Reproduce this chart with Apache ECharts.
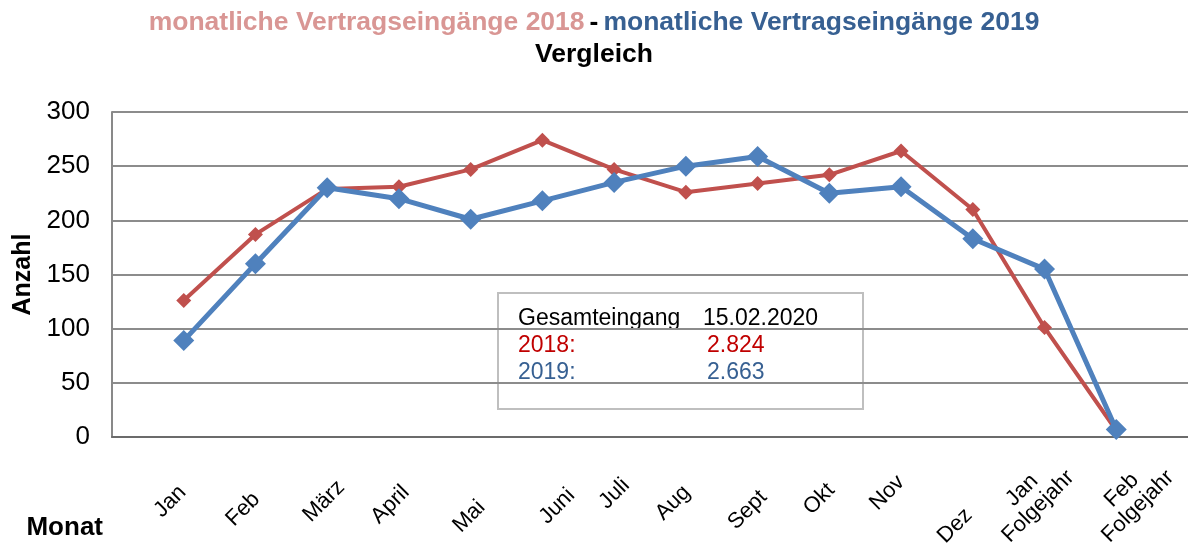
<!DOCTYPE html>
<html>
<head>
<meta charset="utf-8">
<script src="https://cdn.jsdelivr.net/npm/echarts@6/dist/echarts.min.js"></script>
<style>
	html, body { margin: 0; padding: 0; background: #fff; }
	#chart { width: 1188px; height: 546px; }
</style>
</head>
<body>
<div id="chart"></div>
<script>
'use strict';
(function(){
	// Monate (Kategorien)
	var months = ['Jan', 'Feb', 'März', 'April', 'Mai', 'Juni', 'Juli', 'Aug', 'Sept', 'Okt', 'Nov', 'Dez', 'Jan\nFolgejahr', 'Feb\nFolgejahr'];
	// Vertragseingänge je Monat
	var values2018 = [126, 187, 229, 231, 247, 274, 247, 226, 234, 242, 264, 210, 101, 6];
	var values2019 = [89, 160, 230, 220, 201, 218, 235, 250, 259, 225, 231, 183, 155, 7];
	var yTicks = [0, 50, 100, 150, 200, 250, 300];
	var stichtag = '15.02.2020';

	// Verschiebung der schraegen Monatsbeschriftungen (x, y in px) wie im Original
	var labelShift = [[-1,52],[1,59],[14,47],[7,52],[11,67],[29,55],[12,45],[1,52],[6,57],[2,50],[0,42],[-4,75],[18,29],[46,29]];

	var FONT = '"Liberation Sans", Arial, sans-serif';
	var RED = '#C0504D', BLUE = '#4F81BD';

	function sum(arr){ return arr.reduce(function(a, b){ return a + b; }, 0); }
	function de(n){ return String(n).replace(/\B(?=(\d{3})+(?!\d))/g, '.'); }

	// leere Kategorie vorne und hinten, damit die Punkte wie im Original eingerueckt sind
	var cats = [{ value: '' }].concat(months.map(function(m, i){
		var s = labelShift[i];
		var r = (s[1] - s[0]) * Math.SQRT1_2;
		var t = (s[0] + s[1]) * Math.SQRT2;
		return { value: m, textStyle: { padding: [t, r, 0, 0] } };
	}), [{ value: '' }]);
	function pad(arr){ return [null].concat(arr, [null]); }

	var myChart = echarts.init(document.getElementById('chart'));
	myChart.setOption({
		animation: false,
		textStyle: { fontFamily: FONT },
		title: {
			left: 'center',
			top: 2,
			text: '{a|monatliche Vertragseingänge 2018} {d|-} {b|monatliche Vertragseingänge 2019}\n{c|Vergleich}',
			textStyle: {
				fontFamily: FONT,
				rich: {
					a: { color: '#D99694', fontSize: 26.5, fontWeight: 'bold', fontFamily: FONT, lineHeight: 32 },
					d: { color: '#000', fontSize: 26.5, fontWeight: 'bold', fontFamily: FONT, lineHeight: 32 },
					b: { color: '#376092', fontSize: 26.5, fontWeight: 'bold', fontFamily: FONT, lineHeight: 32 },
					c: { color: '#000', fontSize: 26.5, fontWeight: 'bold', fontFamily: FONT, lineHeight: 32, align: 'center' }
				}
			}
		},
		grid: { left: 112, right: 0, top: 112, bottom: 109, outerBoundsMode: 'none' },
		xAxis: {
			type: 'category',
			boundaryGap: false,
			data: cats,
			name: 'Monat',
			nameLocation: 'start',
			nameGap: 9,
			nameTextStyle: { fontSize: 26, fontWeight: 'bold', color: '#000', verticalAlign: 'top', padding: [78, 0, 0, 0], fontFamily: FONT },
			axisLine: { lineStyle: { color: '#6b6b6b', width: 2 } },
			axisTick: { show: false },
			axisLabel: {
				interval: 0,
				rotate: 45,
				margin: 0,
				color: '#000',
				fontSize: 22,
				fontFamily: FONT,
				formatter: function(v){
					return v.split('\n').map(function(s){ return '{c|' + s + '}'; }).join('\n');
				},
				rich: {
					c: { align: 'center', fontSize: 22, fontFamily: FONT, color: '#000', lineHeight: 23 }
				}
			}
		},
		yAxis: {
			type: 'value',
			min: yTicks[0],
			max: yTicks[yTicks.length - 1],
			interval: yTicks[1] - yTicks[0],
			name: 'Anzahl',
			nameLocation: 'middle',
			nameGap: 76,
			nameTextStyle: { fontSize: 25, fontWeight: 'bold', color: '#000', fontFamily: FONT },
			axisLine: { show: true, lineStyle: { color: '#898989', width: 2 } },
			axisTick: { show: false },
			axisLabel: { color: '#000', fontSize: 26, margin: 22, fontFamily: FONT },
			splitLine: { lineStyle: { color: '#8c8c8c', width: 2 } }
		},
		series: [
			{
				name: '2018',
				type: 'line',
				data: pad(values2018),
				symbol: 'diamond',
				symbolSize: 15,
				lineStyle: { color: RED, width: 4 },
				itemStyle: { color: RED },
				z: 2
			},
			{
				name: '2019',
				type: 'line',
				data: pad(values2019),
				symbol: 'diamond',
				symbolSize: 21,
				lineStyle: { color: BLUE, width: 5 },
				itemStyle: { color: BLUE },
				z: 3
			}
		],
		graphic: [
			{
				type: 'group',
				left: 497,
				top: 292,
				children: [
					{ type: 'rect', shape: { x: 0, y: 0, width: 365, height: 116 }, style: { fill: '#fff', stroke: '#bfbfbf', lineWidth: 2 } },
					{ type: 'text', x: 20, y: 14, style: { text: 'Gesamteingang', fill: '#000', font: '23px ' + FONT } },
					{ type: 'text', x: 205, y: 14, style: { text: stichtag, fill: '#000', font: '23px ' + FONT } },
					{ type: 'text', x: 20, y: 41, style: { text: '2018:', fill: '#C00000', font: '23px ' + FONT } },
					{ type: 'text', x: 209, y: 41, style: { text: de(sum(values2018)), fill: '#C00000', font: '23px ' + FONT } },
					{ type: 'text', x: 20, y: 68, style: { text: '2019:', fill: '#376092', font: '23px ' + FONT } },
					{ type: 'text', x: 209, y: 68, style: { text: de(sum(values2019)), fill: '#376092', font: '23px ' + FONT } }
				]
			}
		]
	});
}.call(this));
</script>
</body>
</html>
